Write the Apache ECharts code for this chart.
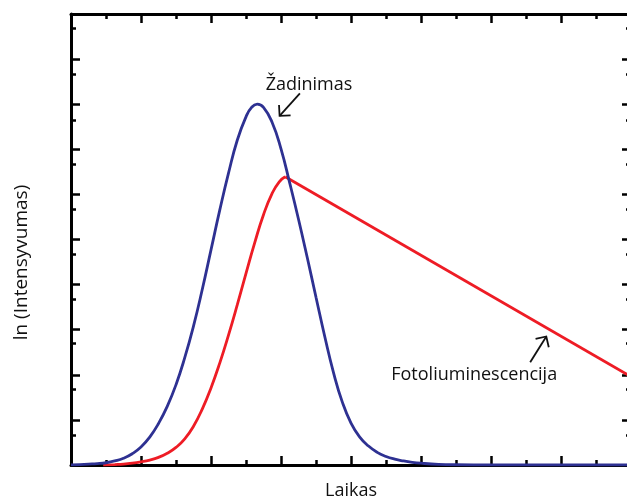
<!DOCTYPE html>
<html>
<head>
<meta charset="utf-8">
<script src="https://cdn.jsdelivr.net/npm/echarts@6/dist/echarts.min.js"></script>
<style>
  html, body { margin: 0; padding: 0; background: #ffffff; }
  #chart { width: 627px; height: 499px; }
</style>
</head>
<body>
<div id="chart"></div>
<script>
// Excitation pulse: time (arb. units) and ln of intensity
const excitationTime = [0, 0.125, 0.25, 0.375, 0.5, 0.625, 0.75, 0.875, 1.0, 1.125, 1.25, 1.375, 1.5, 1.625, 1.75, 1.875, 2.0, 2.125, 2.25, 2.375, 2.5, 2.58, 2.66, 2.75, 2.875, 3.0, 3.125, 3.25, 3.375, 3.5, 3.625, 3.75, 3.875, 4.0, 4.125, 4.25, 4.375, 4.5, 4.625, 4.75, 4.875, 5.0, 5.25, 5.5, 6.0, 7.0, 8.0];
const excitationLnI = [0.00, 0.01, 0.02, 0.03, 0.05, 0.09, 0.15, 0.25, 0.40, 0.62, 0.92, 1.30, 1.78, 2.38, 3.08, 3.89, 4.77, 5.65, 6.47, 7.20, 7.72, 7.93, 8.00, 7.93, 7.59, 7.01, 6.25, 5.45, 4.60, 3.72, 2.85, 2.05, 1.40, 0.93, 0.62, 0.42, 0.28, 0.19, 0.13, 0.09, 0.06, 0.04, 0.015, 0.005, 0.00, 0.00, 0.00];

// Photoluminescence: rising edge, then exponential decay (straight in ln scale)
const plRiseTime = [0.46, 0.625, 0.75, 0.875, 1.0, 1.125, 1.25, 1.375, 1.5, 1.625, 1.75, 1.875, 2.0, 2.125, 2.25, 2.375, 2.5, 2.625, 2.75, 2.875, 2.975, 3.06];
const plRiseLnI = [0.00, 0.01, 0.02, 0.04, 0.07, 0.11, 0.17, 0.26, 0.39, 0.58, 0.86, 1.24, 1.71, 2.26, 2.88, 3.55, 4.25, 4.93, 5.55, 6.03, 6.28, 6.39];
const plDecayTime = [3.06, 8.0];
const plDecayLnI = [6.39, 1.96];

// Short tick marks on the intensity axis
const yMinorTicks = [0.65, 1.68, 2.69, 3.67, 4.67, 5.66, 6.67, 7.64, 8.67, 9.68];

// Annotations (data coordinates)
const noteTexts = ['Žadinimas', 'Fotoliuminescencija'];
const notePos = [[3.40, 8.43], [5.76, 2.00]];
const arrowFrom = [[3.27, 8.24], [6.56, 2.28]];
const arrowTo = [[2.98, 7.74], [6.79, 2.85]];

const FONT = '"Open Sans", "Noto Sans", sans-serif';
const BLUE = '#2e3192';
const RED = '#ee1c25';

const zip = (xs, ys) => xs.map((x, i) => [x, ys[i]]);

const axisLine = { show: true, onZero: false, lineStyle: { color: '#000', width: 3 } };
const majorTick = { show: true, inside: true, length: 9, lineStyle: { color: '#000', width: 2.5 } };

function timeAxis(position, extra) {
  return Object.assign({
    type: 'value', position: position, min: 0, max: 8, interval: 1,
    axisLine: axisLine, axisTick: majorTick,
    minorTick: { show: true, splitNumber: 2, length: 5, lineStyle: { color: '#000', width: 2.5 } },
    axisLabel: { show: false }, splitLine: { show: false }, minorSplitLine: { show: false }
  }, extra || {});
}
function lnAxis(position) {
  return {
    type: 'value', position: position, min: 0, max: 10, interval: 1,
    axisLine: axisLine, axisTick: majorTick,
    axisLabel: { show: false }, splitLine: { show: false }
  };
}
function lnMinorAxis(position) {
  return {
    type: 'value', position: position, min: 0, max: 10,
    axisLine: { show: false, onZero: false },
    axisTick: { show: true, inside: true, length: 5, customValues: yMinorTicks, lineStyle: { color: '#000', width: 2.5 } },
    axisLabel: { show: false }, splitLine: { show: false }
  };
}

const chart = echarts.init(document.getElementById('chart'), null, { renderer: 'canvas' });

chart.setOption({
  animation: false,
  backgroundColor: '#ffffff',
  grid: { left: 71, top: 14, width: 560, height: 451, containLabel: false, outerBoundsMode: 'none' },
  xAxis: [
    timeAxis('bottom', {
      name: 'Laikas', nameLocation: 'middle', nameGap: 17,
      nameTextStyle: { fontFamily: FONT, fontSize: 18, color: '#111' }
    }),
    timeAxis('top')
  ],
  yAxis: [lnAxis('left'), lnAxis('right'), lnMinorAxis('left'), lnMinorAxis('right')],
  series: [
    {
      name: 'Fotoliuminescencija (kilimas)', type: 'line', data: zip(plRiseTime, plRiseLnI),
      smooth: 0.5, symbol: 'none', lineStyle: { color: RED, width: 2.8 }, z: 3
    },
    {
      name: 'Fotoliuminescencija (gesimas)', type: 'line', data: zip(plDecayTime, plDecayLnI),
      smooth: false, symbol: 'none', lineStyle: { color: RED, width: 2.8 }, z: 3
    },
    {
      name: 'Žadinimas', type: 'line', data: zip(excitationTime, excitationLnI),
      smooth: 0.5, symbol: 'none', lineStyle: { color: BLUE, width: 2.8 }, z: 4
    }
  ]
});

// Axis title and annotation labels/arrows placed from data coordinates
const px = p => chart.convertToPixel({ gridIndex: 0 }, p);
const graphics = [{
  type: 'text', x: 21.7, y: 262.5, rotation: Math.PI / 2,
  style: { text: 'ln (Intensyvumas)', font: '19px ' + FONT, fill: '#111', align: 'center', verticalAlign: 'middle' }
}];
noteTexts.forEach((t, i) => {
  const p = px(notePos[i]);
  graphics.push({
    type: 'text', x: p[0], y: p[1],
    style: { text: t, font: '18px ' + FONT, fill: '#111', align: 'center', verticalAlign: 'middle' }
  });
  const a = px(arrowFrom[i]);
  const b = px(arrowTo[i]);
  const ang = Math.atan2(a[1] - b[1], a[0] - b[0]);
  const L = 11;
  const h1 = [b[0] + L * Math.cos(ang + Math.PI / 4), b[1] + L * Math.sin(ang + Math.PI / 4)];
  const h2 = [b[0] + L * Math.cos(ang - Math.PI / 4), b[1] + L * Math.sin(ang - Math.PI / 4)];
  graphics.push({ type: 'polyline', shape: { points: [a, b] }, style: { stroke: '#111', lineWidth: 1.8, fill: null } });
  graphics.push({ type: 'polyline', shape: { points: [h1, b, h2] }, style: { stroke: '#111', lineWidth: 1.8, fill: null } });
});
chart.setOption({ graphic: graphics });
</script>
</body>
</html>
